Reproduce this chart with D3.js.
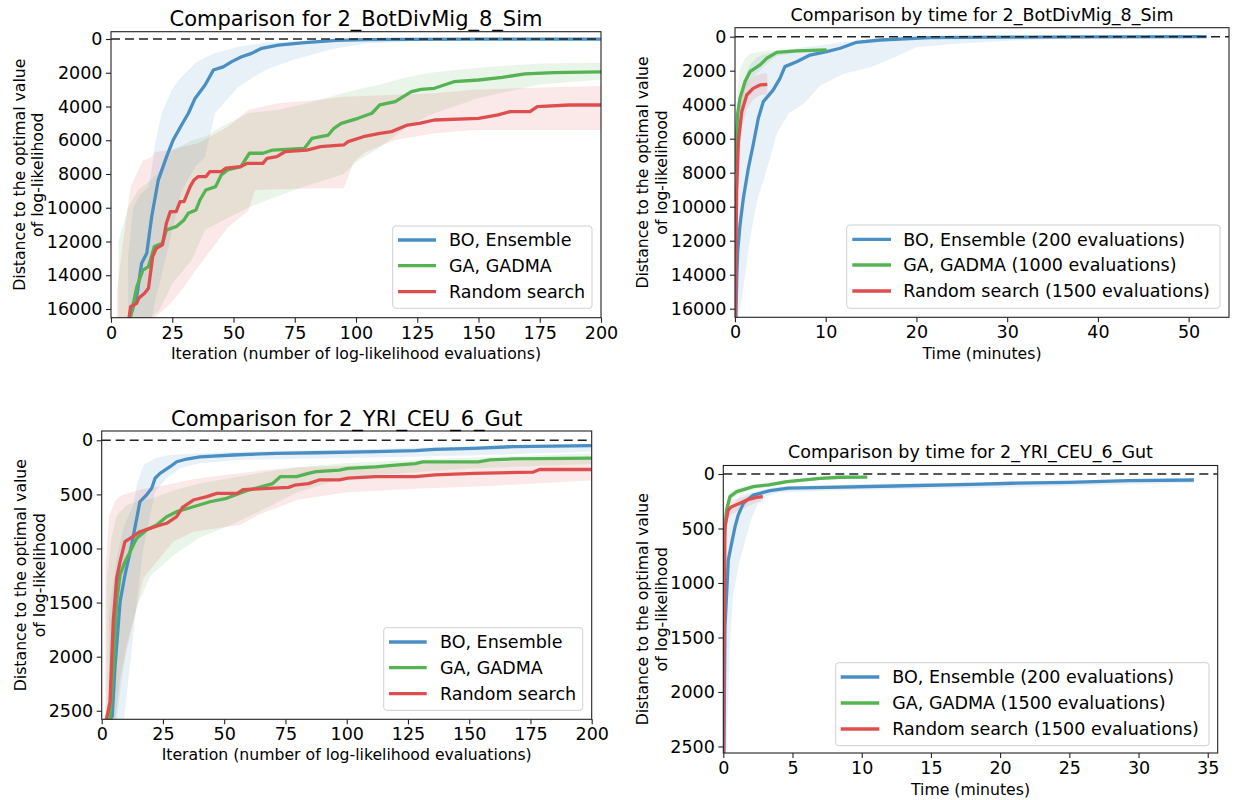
<!DOCTYPE html>
<html><head><meta charset="utf-8">
<script src="https://cdn.jsdelivr.net/npm/d3@7"></script>
<style>
body{margin:0;background:#fff}
svg{display:block}
text{font-family:"DejaVu Sans",sans-serif;fill:#000}
</style>
</head><body>
<svg id="chart" width="1235" height="800"></svg>
<script>
// ---------------- DATA ----------------
const seriesNames = ["BO, Ensemble", "GA, GADMA", "Random search"];
const legendTimeBot = ["BO, Ensemble (200 evaluations)", "GA, GADMA (1000 evaluations)", "Random search (1500 evaluations)"];
const legendTimeYri = ["BO, Ensemble (200 evaluations)", "GA, GADMA (1500 evaluations)", "Random search (1500 evaluations)"];
const titles = ["Comparison for 2_BotDivMig_8_Sim", "Comparison by time for 2_BotDivMig_8_Sim",
                "Comparison for 2_YRI_CEU_6_Gut", "Comparison by time for 2_YRI_CEU_6_Gut"];
const xLabels = ["Iteration (number of log-likelihood evaluations)", "Time (minutes)"];
const yLabelLines = ["Distance to the optimal value", "of log-likelihood"];
const iterTicks = [0, 25, 50, 75, 100, 125, 150, 175, 200];
const botTimeTicks = [0, 10, 20, 30, 40, 50];
const yriTimeTicks = [0, 5, 10, 15, 20, 25, 30, 35];
const botYTicks = [0, 2000, 4000, 6000, 8000, 10000, 12000, 14000, 16000];
const yriYTicks = [0, 500, 1000, 1500, 2000, 2500];

// Panel 1: 2_BotDivMig_8_Sim by iteration  [iteration, distance]
const botIterBO = [[7,16600],[7.8,16460],[10.5,15270],[12.5,13290],[14.6,12700],[16.6,10530],[19.3,8360],[22.7,6970],[25.4,5980],[28.8,5100],[31.6,4400],[34.3,3520],[38.4,2730],[41.8,1840],[45.8,1650],[49.3,1340],[53.3,1050],[57.4,850],[61.5,550],[68.3,360],[79,220],[92,80],[104,40],[120,20],[150,10],[200,10]];
const botIterGA = [[7.5,16600],[8,16450],[10.5,14700],[13,13700],[15.3,13490],[17.7,12300],[21,12100],[22.6,11320],[26.6,11120],[29.8,10720],[31.5,10330],[34.7,10130],[36.3,9540],[38.7,8950],[42.7,8750],[45,8060],[47.6,7760],[53,7560],[56.5,6770],[62,6770],[66,6580],[79,6480],[82,5890],[88.7,5690],[91,5290],[94,5000],[100.8,4700],[106.5,4400],[109.7,3910],[116,3710],[122.6,3120],[126.6,2980],[132,2920],[140,2530],[150,2430],[159.7,2270],[169,2070],[180.6,1990],[200,1950]];
const botIterRS = [[7.3,16600],[8,15860],[10.5,15660],[11.3,15370],[13.7,15070],[15.3,14770],[17,12900],[18.5,12400],[21,12200],[22.6,10920],[24.2,10230],[26.6,10230],[28.2,9640],[29.8,9640],[32.3,8750],[33.9,8350],[35.5,8160],[38.7,8160],[40.3,7860],[45,7860],[46.8,7660],[53,7560],[55.6,7370],[62,7370],[63.7,7070],[67.7,6970],[71,6680],[80,6580],[85.5,6380],[95,6280],[96.8,6080],[103,5790],[109.7,5590],[114.5,5490],[121,5100],[125.8,5000],[132,4800],[150,4700],[158,4500],[163,4300],[171,4300],[174,4010],[187,3910],[200,3910]];
// bands: [iteration, lower distance, upper distance]
const botIterBOBand = [[7,13000,16600],[9,10000,16600],[12,9200,16600],[15.2,8800,16600],[16.6,7770,16600],[18,6180,15500],[20.7,4400,14000],[24.8,3020,11500],[28.8,2230,9000],[34.3,1440,7600],[38.4,1100,6970],[42.4,850,4400],[52,460,2830],[63,220,1840],[74,150,1250],[79,120,1050],[90,60,600],[104,30,260],[130,10,100],[200,0,20]];
const botIterGABand = [[3,12000,16600],[7,10000,16600],[11,8950,16600],[16,8400,16600],[20,7800,16000],[25,6600,14500],[33,6000,13090],[38.4,5790,11300],[45,5200,10800],[56,4400,10000],[68,4200,9300],[80,3800,8700],[95,3200,8000],[100,3000,7300],[110,2700,6400],[120,2300,5300],[130,2000,4500],[150,1700,3500],[175,1450,2700],[200,1400,2400]];
const botIterRSBand = [[2.4,15000,16600],[5,11900,16600],[8,8750,16600],[13,7200,16600],[16.6,7000,16600],[18,6700,16500],[24.8,6580,15600],[28.8,6400,14870],[35.6,6180,13500],[47.9,5190,11120],[56,4200,10200],[58.8,4100,8950],[68.3,3810,8900],[84,3610,8850],[95,3420,8850],[99,3400,7300],[104,3380,6700],[116,3300,5980],[132,3220,5590],[148,3000,5390],[164.5,2920,5390],[200,2780,5390]];

// Panel 2: 2_BotDivMig_8_Sim by time  [minutes, distance]
const botTimeBO = [[0.1,16600],[0.2,14000],[0.3,12600],[0.55,11080],[0.92,9500],[1.47,7740],[2.0,6370],[2.57,4800],[3.12,3820],[4.2,3140],[4.96,2450],[5.5,1760],[6.8,1470],[8.27,1080],[10.1,880],[11.6,680],[13.4,330],[16,195],[21.5,60],[30,30],[40,10],[52,0]];
const botTimeGA = [[0.02,8000],[0.15,6000],[0.3,4500],[0.55,3620],[1.1,2650],[1.65,2060],[2.76,1660],[3.5,1270],[4.6,920],[6.8,840],[10.1,780]];
const botTimeRS = [[0.03,16600],[0.1,13000],[0.18,9130],[0.37,6180],[0.74,4410],[1.29,3430],[2.0,3040],[2.76,2840],[3.56,2800]];
const botTimeBOBand = [[0.1,12000,16600],[0.3,6000,16600],[0.55,4000,16000],[1,2500,14500],[1.65,1650,11860],[2.5,1200,9500],[3.1,1050,8530],[3.86,950,7150],[4.6,880,5690],[5.9,750,4520],[7.6,620,3940],[9.4,500,2870],[12,330,2180],[15,170,1790],[17.6,120,1210],[20,90,620],[24,60,430],[30.5,30,230],[40,10,60],[52,0,20]];
const botTimeGABand = [[0.05,5500,9000],[0.3,3000,6000],[0.55,1900,4500],[1.1,1300,3200],[1.65,1000,2500],[2.76,880,2000],[3.5,820,1600],[4.6,780,1150],[6.8,760,950],[10.1,720,900]];
const botTimeRSBand = [[0.1,10000,16600],[0.37,5000,8000],[0.74,3500,5400],[1.29,2700,4300],[2.0,2350,3700],[2.76,2200,3450],[3.56,2150,3400]];

// Panel 3: 2_YRI_CEU_6_Gut by iteration
const yriIterBO = [[3,2600],[4.3,2550],[5.4,2108],[7.5,1492],[9.5,1245],[12.2,968],[14.3,721],[15.6,567],[18.3,506],[20.4,444],[21.8,351],[23.8,305],[27.9,244],[30.6,198],[34.7,173],[40.1,154],[53.7,136],[71.5,120],[87.6,115],[111.8,105],[128,95],[136,83],[152,74],[168,58],[200,50]];
const yriIterGA = [[2.5,2600],[3.4,2570],[4.7,2108],[6.1,1492],[7.5,1245],[9.5,1122],[11.6,1030],[12.9,968],[14.3,906],[18.3,829],[22.4,783],[26.5,706],[30.6,660],[37.4,614],[44.2,568],[51,536],[56.4,490],[60,460],[65,430],[69.8,400],[73,335],[79.5,335],[84.4,305],[87.6,290],[97,275],[100.5,260],[111.8,245],[119.8,230],[128,215],[131,200],[153.7,200],[158.5,180],[168,172],[200,165]];
const yriIterRS = [[1.5,2600],[2,2570],[3.4,2418],[4.7,1677],[6.1,1276],[7.5,1122],[9.5,937],[11.6,906],[15.6,845],[19.7,814],[23,790],[26.5,767],[30.6,706],[33,620],[37.4,552],[42.9,521],[47,490],[55.3,490],[57.7,455],[68.2,445],[76.3,435],[78.7,415],[84.4,400],[89,365],[97,365],[100.5,350],[111.8,335],[128,335],[136,320],[152,305],[176,295],[178.7,270],[200,270]];
const yriIterBOBand = [[3,1600,2600],[6,1100,2600],[9,800,2600],[12.9,600,1800],[14.3,413,1500],[17,228,1000],[21.8,167,475],[26.5,140,351],[32,130,259],[40,120,213],[56,105,182],[80,95,170],[110,80,160],[150,55,140],[200,31,105]];
const yriIterGABand = [[2,1300,2600],[4,900,2600],[6,700,2600],[10,600,1900],[15,560,1500],[20,540,1250],[30,460,1050],[40,400,900],[55,340,760],[65,300,650],[80,250,480],[100,210,340],[150,160,260],[200,120,220]];
const yriIterRSBand = [[1.5,1200,2600],[3,700,2600],[5.4,567,2600],[7.5,515,2200],[12.9,475,1677],[17,450,1276],[22.4,430,1122],[29.2,400,937],[37.4,360,845],[47,330,814],[56.4,305,783],[65,280,680],[80,250,550],[100,235,480],[130,215,445],[160,200,420],[200,170,370]];

// Panel 4: 2_YRI_CEU_6_Gut by time
const yriTimeBO = [[0.05,2600],[0.08,2000],[0.12,1400],[0.36,790],[0.6,636],[0.85,483],[1.08,376],[1.45,269],[2.17,193],[3.37,153],[4.7,130],[6.7,125],[12.4,110],[18,95],[20.9,85],[25,76],[29.3,61],[34,55]];
const yriTimeGA = [[0.02,900],[0.1,500],[0.24,330],[0.48,208],[0.97,162],[2.17,116],[3.3,100],[4.6,70],[7,40],[8.4,30],[10.4,28]];
const yriTimeRS = [[0,2600],[0.03,1800],[0.06,1340],[0.12,483],[0.36,330],[0.6,300],[1.2,269],[1.7,238],[2.4,214],[2.85,208]];
const yriTimeBOBand = [[0.05,1500,2600],[0.12,900,2600],[0.24,600,2500],[0.5,350,1500],[0.72,280,1095],[1.2,200,790],[2,170,420],[2.4,160,300],[2.8,150,220],[4,115,170],[10,95,145],[20,70,125],[34,40,80]];
const yriTimeGABand = [[0.02,600,1200],[0.1,350,700],[0.24,250,420],[0.48,170,260],[0.97,130,195],[2.17,95,140],[4.6,55,90],[7,28,55],[10.4,20,40]];
const yriTimeRSBand = [[0.03,1000,2600],[0.12,350,700],[0.36,260,420],[0.6,240,370],[1.2,220,330],[1.7,200,300],[2.4,185,260],[2.85,177,250]];

// ---------------- STYLE / LAYOUT ----------------
const colors = ["#4a8fc4", "#55b354", "#df4e4f"];
const svg = d3.select("#chart");

const panels = [
  {id:1, left:111, right:601, top:31.7, bottom:317.7, xDomain:[0,200], yDomain:[-433,16516],
   xTicks:iterTicks, yTicks:botYTicks, title:titles[0], titleSize:21, titleY:25.5, xLabel:xLabels[0], xLabelY:358.5,
   yLabelX:[19,37.5], lines:[botIterBO,botIterGA,botIterRS], bands:[botIterBOBand,botIterGABand,botIterRSBand],
   legendLabels:seriesNames, legend:{x0:392.7,y0:226,x1:592,y1:308.3,lx0:398,lx1:436,tx:449,rows:[240,265.7,291.7]}},
  {id:2, left:735, right:1229, top:27.7, bottom:317.3, xDomain:[0,54.45], yDomain:[-529,16506],
   xTicks:botTimeTicks, yTicks:botYTicks, title:titles[1], titleSize:17.5, titleY:20.5, xLabel:xLabels[1], xLabelY:358.5,
   yLabelX:[642.4,661], lines:[botTimeBO,botTimeGA,botTimeRS], bands:[botTimeBOBand,botTimeGABand,botTimeRSBand],
   legendLabels:legendTimeBot, legend:{x0:846.7,y0:225,x1:1220,y1:308.3,lx0:852.3,lx1:891,tx:903.3,rows:[239.3,265,291]}},
  {id:3, left:101.7, right:591.7, top:431, bottom:719.3, xDomain:[0,200], yDomain:[-86,2579],
   xTicks:iterTicks, yTicks:yriYTicks, title:titles[2], titleSize:21, titleY:426, xLabel:xLabels[0], xLabelY:760,
   yLabelX:[20.5,39.5], lines:[yriIterBO,yriIterGA,yriIterRS], bands:[yriIterBOBand,yriIterGABand,yriIterRSBand],
   legendLabels:seriesNames, legend:{x0:383.7,y0:627.7,x1:582.7,y1:710.3,lx0:389,lx1:426.7,tx:440,rows:[642,667.7,693.7]}},
  {id:4, left:723.3, right:1217.7, top:465.5, bottom:753, xDomain:[0,35.72], yDomain:[-78,2560],
   xTicks:yriTimeTicks, yTicks:yriYTicks, title:titles[3], titleSize:17.5, titleY:458, xLabel:xLabels[1], xLabelY:795,
   yLabelX:[642.3,661], lines:[yriTimeBO,yriTimeGA,yriTimeRS], bands:[yriTimeBOBand,yriTimeGABand,yriTimeRSBand],
   legendLabels:legendTimeYri, legend:{x0:835.7,y0:662.7,x1:1209,y1:745.7,lx0:840.7,lx1:879.3,tx:892.3,rows:[677,703,729]}}
];

const defs = svg.append("defs");

function drawPanel(p){
  const x = d3.scaleLinear().domain(p.xDomain).range([p.left, p.right]);
  const y = d3.scaleLinear().domain(p.yDomain).range([p.top, p.bottom]);
  const g = svg.append("g");
  defs.append("clipPath").attr("id","clip"+p.id).append("rect")
    .attr("x",p.left).attr("y",p.top).attr("width",p.right-p.left).attr("height",p.bottom-p.top);
  const plot = g.append("g").attr("clip-path","url(#clip"+p.id+")");

  const area = d3.area().x(d=>x(d[0])).y0(d=>y(d[1])).y1(d=>y(d[2]));
  p.bands.forEach((b,i)=>{
    plot.append("path").datum(b).attr("d",area)
      .attr("fill",colors[i]).attr("fill-opacity",0.13).attr("stroke","none");
  });
  const line = d3.line().x(d=>x(d[0])).y(d=>y(d[1]));
  p.lines.forEach((l,i)=>{
    plot.append("path").datum(l).attr("d",line)
      .attr("fill","none").attr("stroke",colors[i]).attr("stroke-width",3.3)
      .attr("stroke-linejoin","round");
  });
  plot.append("line").attr("x1",p.left).attr("x2",p.right).attr("y1",y(0)).attr("y2",y(0))
    .attr("stroke","#222").attr("stroke-width",1.6).attr("stroke-dasharray","9,5");

  // axes
  const xa = g.append("g").attr("transform",`translate(0,${p.bottom})`)
    .call(d3.axisBottom(x).tickValues(p.xTicks).tickFormat(d3.format("d")).tickSize(5).tickPadding(3.5).tickSizeOuter(0));
  const ya = g.append("g").attr("transform",`translate(${p.left},0)`)
    .call(d3.axisLeft(y).tickValues(p.yTicks).tickFormat(d3.format("d")).tickSize(5).tickPadding(3.5).tickSizeOuter(0));
  [xa,ya].forEach(a=>{
    a.select(".domain").remove();
    a.selectAll("line").attr("stroke","#222").attr("stroke-width",1.1);
    a.selectAll("text").attr("font-size",17.5).attr("font-family","DejaVu Sans").attr("fill","#000");
  });

  // frame
  g.append("rect").attr("x",p.left).attr("y",p.top).attr("width",p.right-p.left).attr("height",p.bottom-p.top)
    .attr("fill","none").attr("stroke","#222").attr("stroke-width",1.1);

  // title
  const cx = (p.left+p.right)/2;
  g.append("text").attr("x",cx).attr("y",p.titleY).attr("text-anchor","middle")
    .attr("font-size",p.titleSize).text(p.title);
  // x label
  g.append("text").attr("x",cx).attr("y",p.xLabelY).attr("text-anchor","middle")
    .attr("font-size",15.7).text(p.xLabel);
  // y label (two lines)
  const cy = (p.top+p.bottom)/2;
  yLabelLines.forEach((t,i)=>{
    g.append("text").attr("transform",`translate(${p.yLabelX[i]},${cy}) rotate(-90)`)
      .attr("text-anchor","middle").attr("dy","0.35em").attr("font-size",15.7).text(t);
  });

  // legend
  const L = p.legend;
  g.append("rect").attr("x",L.x0).attr("y",L.y0).attr("width",L.x1-L.x0).attr("height",L.y1-L.y0)
    .attr("rx",3).attr("fill","#fff").attr("fill-opacity",0.8).attr("stroke","#d0d0d0").attr("stroke-width",1);
  p.legendLabels.forEach((lab,i)=>{
    g.append("line").attr("x1",L.lx0).attr("x2",L.lx1).attr("y1",L.rows[i]).attr("y2",L.rows[i])
      .attr("stroke",colors[i]).attr("stroke-width",3.3);
    g.append("text").attr("x",L.tx).attr("y",L.rows[i]).attr("dy","0.36em")
      .attr("font-size",17.5).text(lab);
  });
}

panels.forEach(drawPanel);
</script>
</body></html>
